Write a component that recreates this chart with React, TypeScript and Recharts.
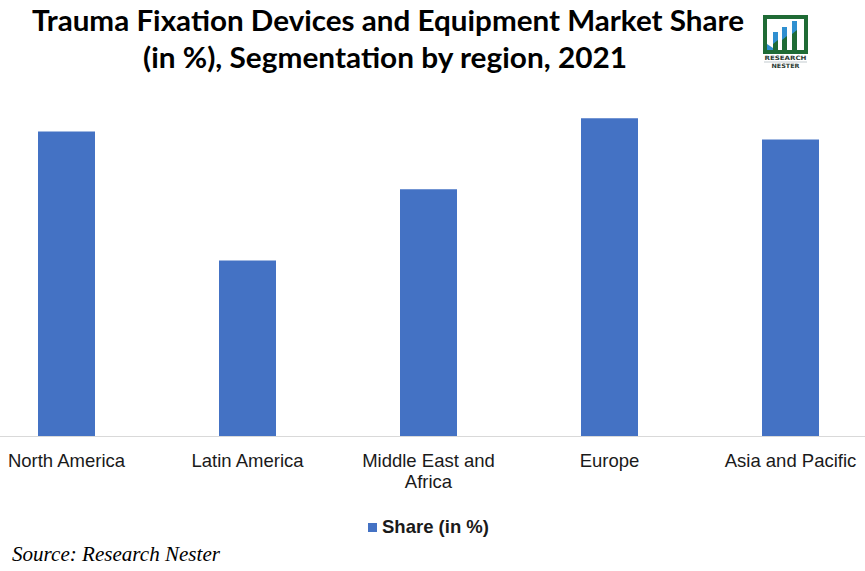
import React from 'react';
import { BarChart, Bar, XAxis, YAxis, Legend } from 'recharts';

const regions = ['North America', 'Latin America', 'Middle East and Africa', 'Europe', 'Asia and Pacific'];
const shares = [22.7, 13.1, 18.4, 23.7, 22.1];
const seriesName = 'Share (in %)';
const titleLines = ['Trauma Fixation Devices and Equipment Market Share', '(in %), Segmentation by region, 2021'];
const sourceText = 'Source: Research Nester';

const data = regions.map((r, i) => ({ region: r, share: shares[i] }));

const BAR_COLOR = '#4472C4';

function wrapLabel(label: string, max = 16): string[] {
  const words = label.split(' ');
  const lines: string[] = [];
  let cur = '';
  for (const w of words) {
    const next = cur ? cur + ' ' + w : w;
    if (next.length > max && cur) {
      lines.push(cur);
      cur = w;
    } else {
      cur = next;
    }
  }
  if (cur) lines.push(cur);
  return lines;
}

const RegionTick = (props: any) => {
  const { x, y, payload } = props;
  const lines = wrapLabel(String(payload.value));
  return (
    <text x={x} y={y} textAnchor="middle" fontFamily="'Liberation Sans', Arial, sans-serif" fontSize={18.5} fill="#1a1a1a">
      {lines.map((l, i) => (
        <tspan key={i} x={x} dy={i === 0 ? 22 : 21}>{l}</tspan>
      ))}
    </text>
  );
};

const LegendContent = (props: any) => {
  const items = props.payload || [];
  return (
    <div style={{ display: 'flex', justifyContent: 'center', alignItems: 'center' }}>
      {items.map((it: any, i: number) => (
        <div key={i} style={{ display: 'flex', alignItems: 'center' }}>
          <span style={{ display: 'inline-block', width: 9, height: 9, background: it.color, marginRight: 5 }} />
          <span style={{ fontFamily: "'Liberation Sans', Arial, sans-serif", fontWeight: 'bold', fontSize: 18.5, color: '#1a1a1a' }}>{it.value}</span>
        </div>
      ))}
    </div>
  );
};

export default function App() {
  return (
    <div style={{ position: 'absolute', left: 0, top: 0, width: 865, height: 571, overflow: 'hidden', background: '#ffffff' }}>
      <div style={{ position: 'absolute', left: -24, top: 0 }}>
        <BarChart width={905} height={571} data={data} margin={{ top: 33.5, right: 0, left: 0, bottom: 44.5 }}>
          <YAxis hide domain={[0, 30]} />
          <XAxis
            dataKey="region"
            height={60}
            tickLine={false}
            axisLine={{ stroke: '#d9d9d9', strokeWidth: 1 }}
            tick={<RegionTick />}
            interval={0}
          />
          <Legend height={30} wrapperStyle={{ top: 516, bottom: 'auto' }} content={<LegendContent />} />
          <Bar dataKey="share" name={seriesName} fill={BAR_COLOR} barSize={57} isAnimationActive={false} />
        </BarChart>
      </div>
      <svg width={865} height={571} style={{ position: 'absolute', left: 0, top: 0, pointerEvents: 'none' }}>
        <text x={388} y={31} textAnchor="middle" fontFamily="Lato, 'Open Sans', sans-serif" fontWeight="bold" fontSize={28} fill="#000" textLength={712} lengthAdjust="spacingAndGlyphs">{titleLines[0]}</text>
        <text x={385} y={68} textAnchor="middle" fontFamily="Lato, 'Open Sans', sans-serif" fontWeight="bold" fontSize={28} fill="#000" textLength={484} lengthAdjust="spacingAndGlyphs">{titleLines[1]}</text>
        <text x={12} y={561} fontFamily="'Liberation Serif', 'Times New Roman', serif" fontStyle="italic" fontSize={21} fill="#000" textLength={208} lengthAdjust="spacingAndGlyphs">{sourceText}</text>
        <g>
          <rect x={763} y={15} width={45} height={39} fill="#1f6b35" />
          <rect x={767} y={19} width={37} height={31} fill="#ffffff" />
          <polygon points="767,50 767,44 776,50" fill="#2f8fd0" />
          <rect x={773} y={32} width={5} height={22} fill="#1f6b35" />
          <rect x={782} y={27} width={5} height={27} fill="#1f6b35" />
          <rect x={792} y={21} width={5} height={33} fill="#1f6b35" />
          <polygon points="773,32 778,32 778,40 773,44" fill="#2f8fd0" />
          <polygon points="782,27 787,27 787,36 782,40" fill="#2f8fd0" />
          <polygon points="792,21 797,21 797,30 792,34" fill="#2f8fd0" />
          <text x={785.5} y={60} textAnchor="middle" fontFamily="'DejaVu Sans', sans-serif" fontWeight="bold" fontSize={6} fill="#2b3a33" textLength={42} lengthAdjust="spacingAndGlyphs">RESEARCH</text>
          <line x1={764} y1={62} x2={807} y2={62} stroke="#9aa7b0" strokeWidth={0.6} />
          <text x={785.5} y={68} textAnchor="middle" fontFamily="'DejaVu Sans', sans-serif" fontWeight="bold" fontSize={6} fill="#2b3a33" textLength={28} lengthAdjust="spacingAndGlyphs">NESTER</text>
        </g>
      </svg>
    </div>
  );
}
